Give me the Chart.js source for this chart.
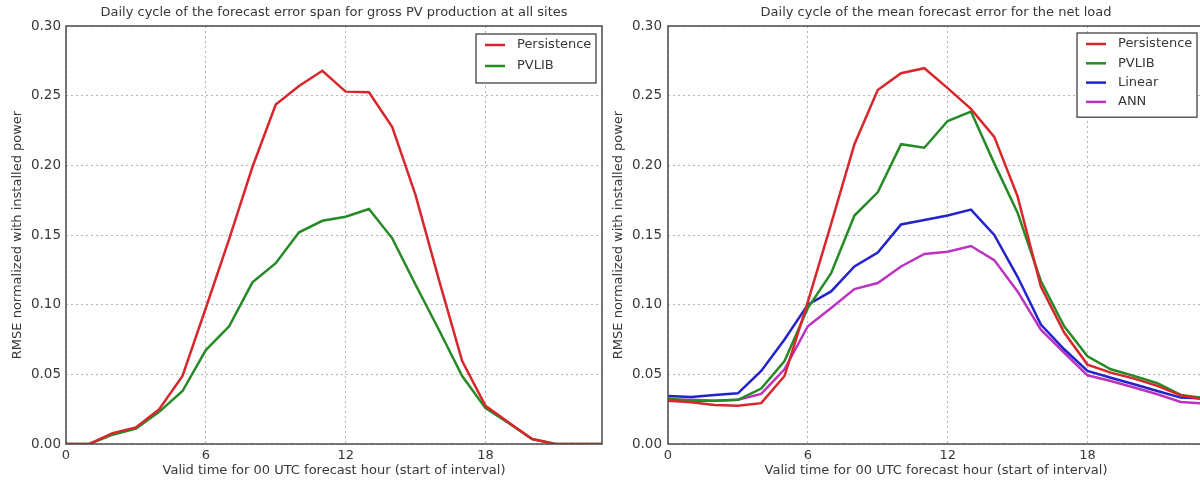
<!DOCTYPE html>
<html>
<head>
<meta charset="utf-8">
<script src="https://cdn.jsdelivr.net/npm/chart.js@4/dist/chart.umd.min.js"></script>
<style>
    html, body { margin: 0; padding: 0; background: #fff; }
    body { width: 1200px; height: 486px; overflow: hidden; position: relative; }
    #left-wrap { position: absolute; left: 0; top: 0; }
    #right-wrap { position: absolute; left: 604px; top: 0; }
</style>
</head>
<body>
<div id="left-wrap"><canvas id="left-chart" width="606" height="486"></canvas></div>
<div id="right-wrap"><canvas id="right-chart" width="602" height="486"></canvas></div>
<script>
// Hours of the day (x axis)
const hours = [0, 1, 2, 3, 4, 5, 6, 7, 8, 9, 10, 11, 12, 13, 14, 15, 16, 17, 18, 19, 20, 21, 22, 23];
const xTicks = [0, 6, 12, 18];
const yTicks = [0, 0.05, 0.10, 0.15, 0.20, 0.25, 0.30];

// Left panel: forecast error span, gross PV
const spanPersistence = [0, 0, 0.0078, 0.0119, 0.025, 0.0488, 0.0976, 0.147, 0.1988, 0.2436, 0.257, 0.2679,
    0.2529, 0.2524, 0.2274, 0.1786, 0.118, 0.0595, 0.0274, 0.0155, 0.0036, 0, 0, 0];
const spanPvlib = [0, 0, 0.0067, 0.011, 0.0231, 0.038, 0.0674, 0.0845, 0.116, 0.1298, 0.1519, 0.1602,
    0.1631, 0.1686, 0.1476, 0.1143, 0.082, 0.0488, 0.0257, 0.015, 0.0036, 0, 0, 0];

// Right panel: mean forecast error, net load
const netPersistence = [0.031, 0.030, 0.028, 0.0274, 0.0293, 0.0488, 0.102, 0.158, 0.2152, 0.254, 0.2661, 0.2697,
    0.2554, 0.2405, 0.2204, 0.1777, 0.113, 0.080, 0.057, 0.0512, 0.0469, 0.0417, 0.035, 0.032];
const netPvlib = [0.0326, 0.031, 0.031, 0.0317, 0.0398, 0.0595, 0.0976, 0.1226, 0.164, 0.1806, 0.2152, 0.2126,
    0.2318, 0.2386, 0.2014, 0.166, 0.117, 0.0845, 0.063, 0.0536, 0.0488, 0.0436, 0.0352, 0.033];
const netLinear = [0.0345, 0.0338, 0.0352, 0.0364, 0.0524, 0.075, 0.100, 0.1095, 0.1274, 0.1374, 0.1576, 0.1607,
    0.164, 0.1682, 0.150, 0.120, 0.0857, 0.068, 0.0524, 0.0476, 0.0429, 0.038, 0.0333, 0.0326];
const netAnn = [0.0317, 0.0317, 0.031, 0.0317, 0.036, 0.0536, 0.0845, 0.0976, 0.1112, 0.1155, 0.1274, 0.1364,
    0.138, 0.1421, 0.132, 0.1095, 0.082, 0.0655, 0.0493, 0.0452, 0.0405, 0.0357, 0.0302, 0.029];

// Line colours
const colors = {
    'Persistence': '#d8272c',
    'PVLIB': '#268a26',
    'Linear': '#2323cc',
    'ANN': '#bd32c0'
};

const FONT = 'DejaVu Sans, Verdana, sans-serif';
const TEXT = '#383838';

function series(label, values) {
    return {
        label: label,
        data: hours.map((h, i) => ({ x: h, y: values[i] })),
        borderColor: colors[label],
        backgroundColor: colors[label],
        borderWidth: 2.5,
        pointRadius: 0,
        tension: 0,
        fill: false
    };
}

// Frame around plot area + legend box in the top right corner
const framePlugin = {
    id: 'frame',
    afterDraw(chart) {
        const { ctx, chartArea: a } = chart;
        ctx.save();
        ctx.strokeStyle = '#4a4a4a';
        ctx.lineWidth = 1.5;
        ctx.strokeRect(a.left, a.top, a.right - a.left, a.bottom - a.top);

        // legend
        const opts = chart.options.plugins.boxLegend;
        const sets = chart.data.datasets;
        const rowH = opts.rowH;
        const w = 120;
        const h = sets.length * rowH + 7;
        const x = opts.right - w;
        const y = a.top + opts.top;
        ctx.fillStyle = '#fff';
        ctx.fillRect(x, y, w, h);
        ctx.strokeStyle = '#333';
        ctx.lineWidth = 1.2;
        ctx.strokeRect(x, y, w, h);
        ctx.font = '13px ' + FONT;
        ctx.textBaseline = 'middle';
        sets.forEach((ds, i) => {
            const cy = y + 11 + i * rowH;
            ctx.strokeStyle = ds.borderColor;
            ctx.lineWidth = 2.5;
            ctx.beginPath();
            ctx.moveTo(x + 9, cy);
            ctx.lineTo(x + 29, cy);
            ctx.stroke();
            ctx.fillStyle = TEXT;
            ctx.fillText(ds.label, x + 41, cy);
        });
        ctx.restore();
    }
};

function makeOptions(title, yWidth, yTitlePad, yTickPad, legendRight, legendTop, rowH, padRight) {
    return {
        responsive: false,
        animation: false,
        devicePixelRatio: 1,
        layout: { padding: { left: 0, right: padRight, top: 0, bottom: 0 } },
        plugins: {
            legend: { display: false },
            tooltip: { enabled: false },
            title: {
                display: true,
                text: title,
                fullSize: false,
                color: TEXT,
                font: { family: FONT, size: 13, weight: 'normal' },
                padding: { top: 5, bottom: 5.4 }
            },
            boxLegend: { right: legendRight, top: legendTop, rowH: rowH }
        },
        scales: {
            x: {
                type: 'linear',
                min: 0,
                max: 23,
                afterFit: s => { s.height = 42; },
                afterBuildTicks: s => { s.ticks = xTicks.map(v => ({ value: v })); },
                ticks: { color: TEXT, font: { family: FONT, size: 13 }, padding: 4, maxRotation: 0 },
                grid: { color: '#b4b4b4', lineWidth: 1, drawTicks: false },
                border: { display: false, dash: [2, 3] },
                title: {
                    display: true,
                    text: 'Valid time for 00 UTC forecast hour (start of interval)',
                    color: TEXT,
                    font: { family: FONT, size: 13 },
                    padding: { top: 0, bottom: 7.2 }
                }
            },
            y: {
                min: 0,
                max: 0.3,
                afterFit: s => { s.width = yWidth; },
                afterBuildTicks: s => { s.ticks = yTicks.map(v => ({ value: v })); },
                ticks: {
                    color: TEXT,
                    font: { family: FONT, size: 13.5 },
                    padding: yTickPad,
                    callback: v => v.toFixed(2)
                },
                grid: { color: '#b4b4b4', lineWidth: 1, drawTicks: false },
                border: { display: false, dash: [2, 3] },
                title: {
                    display: true,
                    text: 'RMSE normalized with installed power',
                    color: TEXT,
                    font: { family: FONT, size: 13 },
                    padding: { top: yTitlePad, bottom: 0 }
                }
            }
        }
    };
}

new Chart(document.getElementById('left-chart'), {
    type: 'line',
    data: {
        datasets: [
            series('Persistence', spanPersistence),
            series('PVLIB', spanPvlib)
        ]
    },
    options: makeOptions('Daily cycle of the forecast error span for gross PV production at all sites',
        66, 10.2, 5, 596, 8, 21, 4),
    plugins: [framePlugin]
});

new Chart(document.getElementById('right-chart'), {
    type: 'line',
    data: {
        datasets: [
            series('Persistence', netPersistence),
            series('PVLIB', netPvlib),
            series('Linear', netLinear),
            series('ANN', netAnn)
        ]
    },
    options: makeOptions('Daily cycle of the mean forecast error for the net load',
        64, 7.2, 6, 1197 - 604, 7, 19.3, 2),
    plugins: [framePlugin]
});
</script>
</body>
</html>
